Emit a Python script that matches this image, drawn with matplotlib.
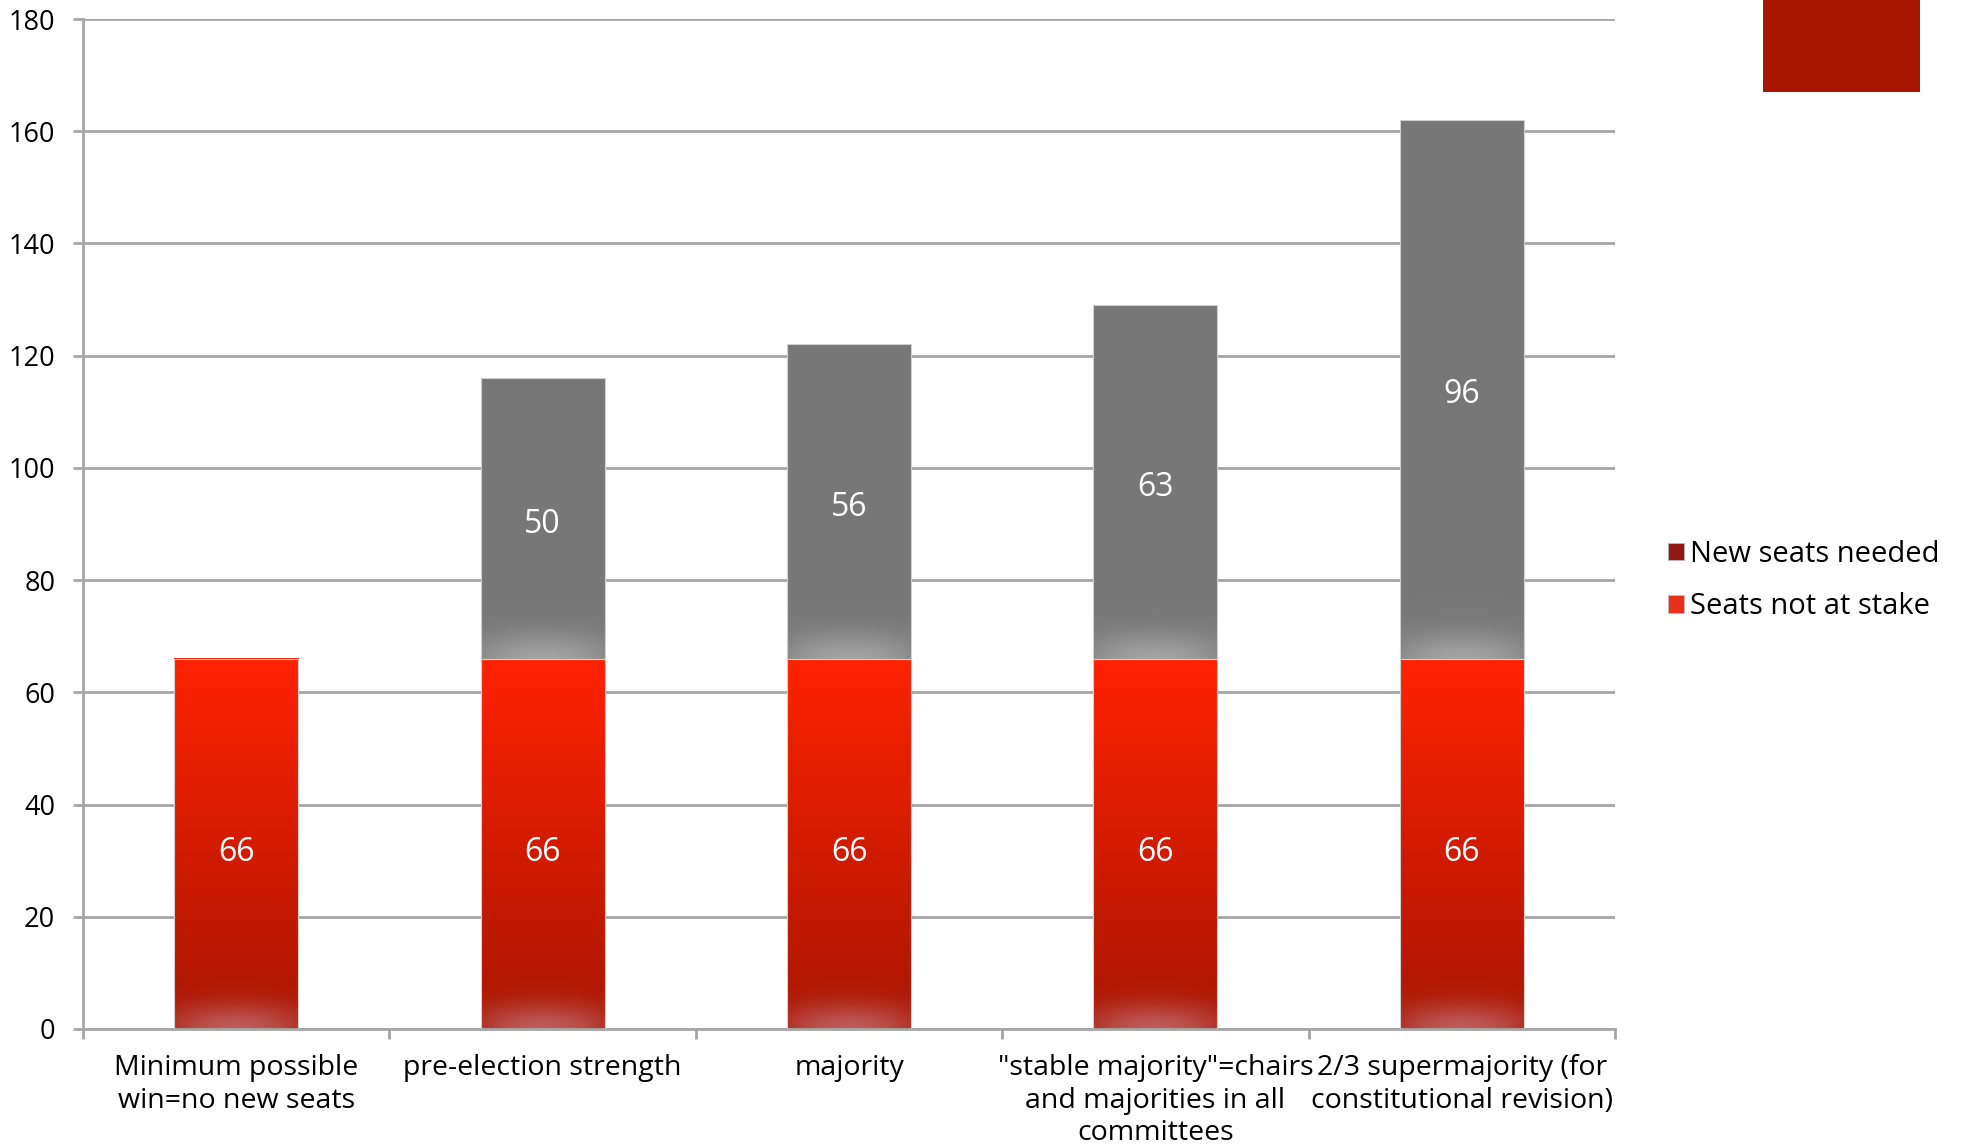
import matplotlib.pyplot as plt
import matplotlib.patches as mpatches
import numpy as np

# data
categories = ['Minimum possible\nwin=no new seats', 'pre-election strength', 'majority',
              '"stable majority"=chairs\nand majorities in all\ncommittees',
              '2/3 supermajority (for\nconstitutional revision)']
seats_not_at_stake = [66, 66, 66, 66, 66]
new_seats_needed = [0, 50, 56, 63, 96]

plt.rcParams['font.family'] = ['Open Sans', 'DejaVu Sans']

fig = plt.figure(figsize=(19.66, 11.47), dpi=100)
ax = fig.add_axes([0.0422, 0.1029, 0.7793, 0.8805])

grid_col = '#A6A6A6'
bar_w = 0.405


def hexrgb(h):
    h = h.lstrip('#')
    return np.array([int(h[i:i + 2], 16) for i in (0, 2, 4)]) / 255.0


def gradient(bottom_col, top_col, glow_col, height, glow_units, n=300):
    # vertical colour ramp plus a soft glow at the bottom of the segment
    t = np.linspace(0, 1, n)[:, None]
    xs = np.linspace(-1, 1, 60)[None, :]
    base = hexrgb(bottom_col) + (hexrgb(top_col) - hexrgb(bottom_col)) * t[..., None]
    base = np.repeat(base, 60, axis=1)
    g = np.exp(-(t * height / glow_units) ** 2) * (1 - 0.55 * xs ** 2)
    g = g[..., None]
    return base * (1 - g) + hexrgb(glow_col) * g


x = np.arange(len(categories)) + 0.5
for i in range(len(categories)):
    b0, b1 = 0, seats_not_at_stake[i]
    red_img = gradient('#A81500', '#FF2200', '#BD5A5A', b1, 4.5)
    ax.imshow(red_img, extent=[x[i] - bar_w / 2, x[i] + bar_w / 2, b0, b1],
              aspect='auto', origin='lower', zorder=2, interpolation='bilinear')
    ax.add_patch(mpatches.Rectangle((x[i] - bar_w / 2, b0), bar_w, b1 - b0, fill=False,
                                    edgecolor='#D0D0D0', lw=0.8, zorder=3))
    ax.text(x[i], b1 / 2 - 1.5, str(seats_not_at_stake[i]), color='white', fontsize=23,
            ha='center', va='center', zorder=4)
    if new_seats_needed[i] > 0:
        top = b1 + new_seats_needed[i]
        grey_img = gradient('#787878', '#777777', '#A2A2A2', new_seats_needed[i], 4.5)
        ax.imshow(grey_img, extent=[x[i] - bar_w / 2, x[i] + bar_w / 2, b1, top],
                  aspect='auto', origin='lower', zorder=2, interpolation='bilinear')
        ax.add_patch(mpatches.Rectangle((x[i] - bar_w / 2, b1), bar_w, top - b1, fill=False,
                                        edgecolor='#D0D0D0', lw=0.8, zorder=3))
        ax.text(x[i], b1 + new_seats_needed[i] / 2 - 1.0, str(new_seats_needed[i]),
                color='white', fontsize=23, ha='center', va='center', zorder=4)

ax.set_xlim(0, len(categories))
ax.set_ylim(0, 180)
ax.set_yticks(np.arange(0, 181, 20))
ax.yaxis.grid(True, color=grid_col, lw=2)
ax.set_axisbelow(True)
for s in ['top', 'right']:
    ax.spines[s].set_visible(False)
for s in ['left', 'bottom']:
    ax.spines[s].set_color(grid_col)
    ax.spines[s].set_linewidth(2)

ax.set_xticks(np.arange(0, len(categories) + 1))
ax.set_xticklabels([])
ax.set_xticks(x, minor=True)
ax.set_xticklabels(categories, minor=True, fontsize=20.5, linespacing=1.22)
ax.tick_params(axis='x', which='major', length=7, width=2, color=grid_col)
ax.tick_params(axis='x', which='minor', length=0, pad=18)
ax.tick_params(axis='y', length=7, width=2, color=grid_col, labelsize=19.5, pad=13)

handles = [mpatches.Patch(facecolor='#8E1A14', edgecolor='#C0C0C0', lw=0.5),
           mpatches.Patch(facecolor='#E8301C', edgecolor='#C0C0C0', lw=0.5)]
fig.legend(handles, ['New seats needed', 'Seats not at stake'], loc='center left',
           bbox_to_anchor=(0.835, 0.494), frameon=False, fontsize=21,
           handlelength=0.55, handleheight=0.55, handletextpad=0.2, labelspacing=0.8)

fig.add_artist(mpatches.Rectangle((0.8967, 0.9198), 0.0799, 0.09, transform=fig.transFigure,
                                  facecolor='#AA1500', edgecolor='none'))

fig.savefig('out.png', dpi=100)
